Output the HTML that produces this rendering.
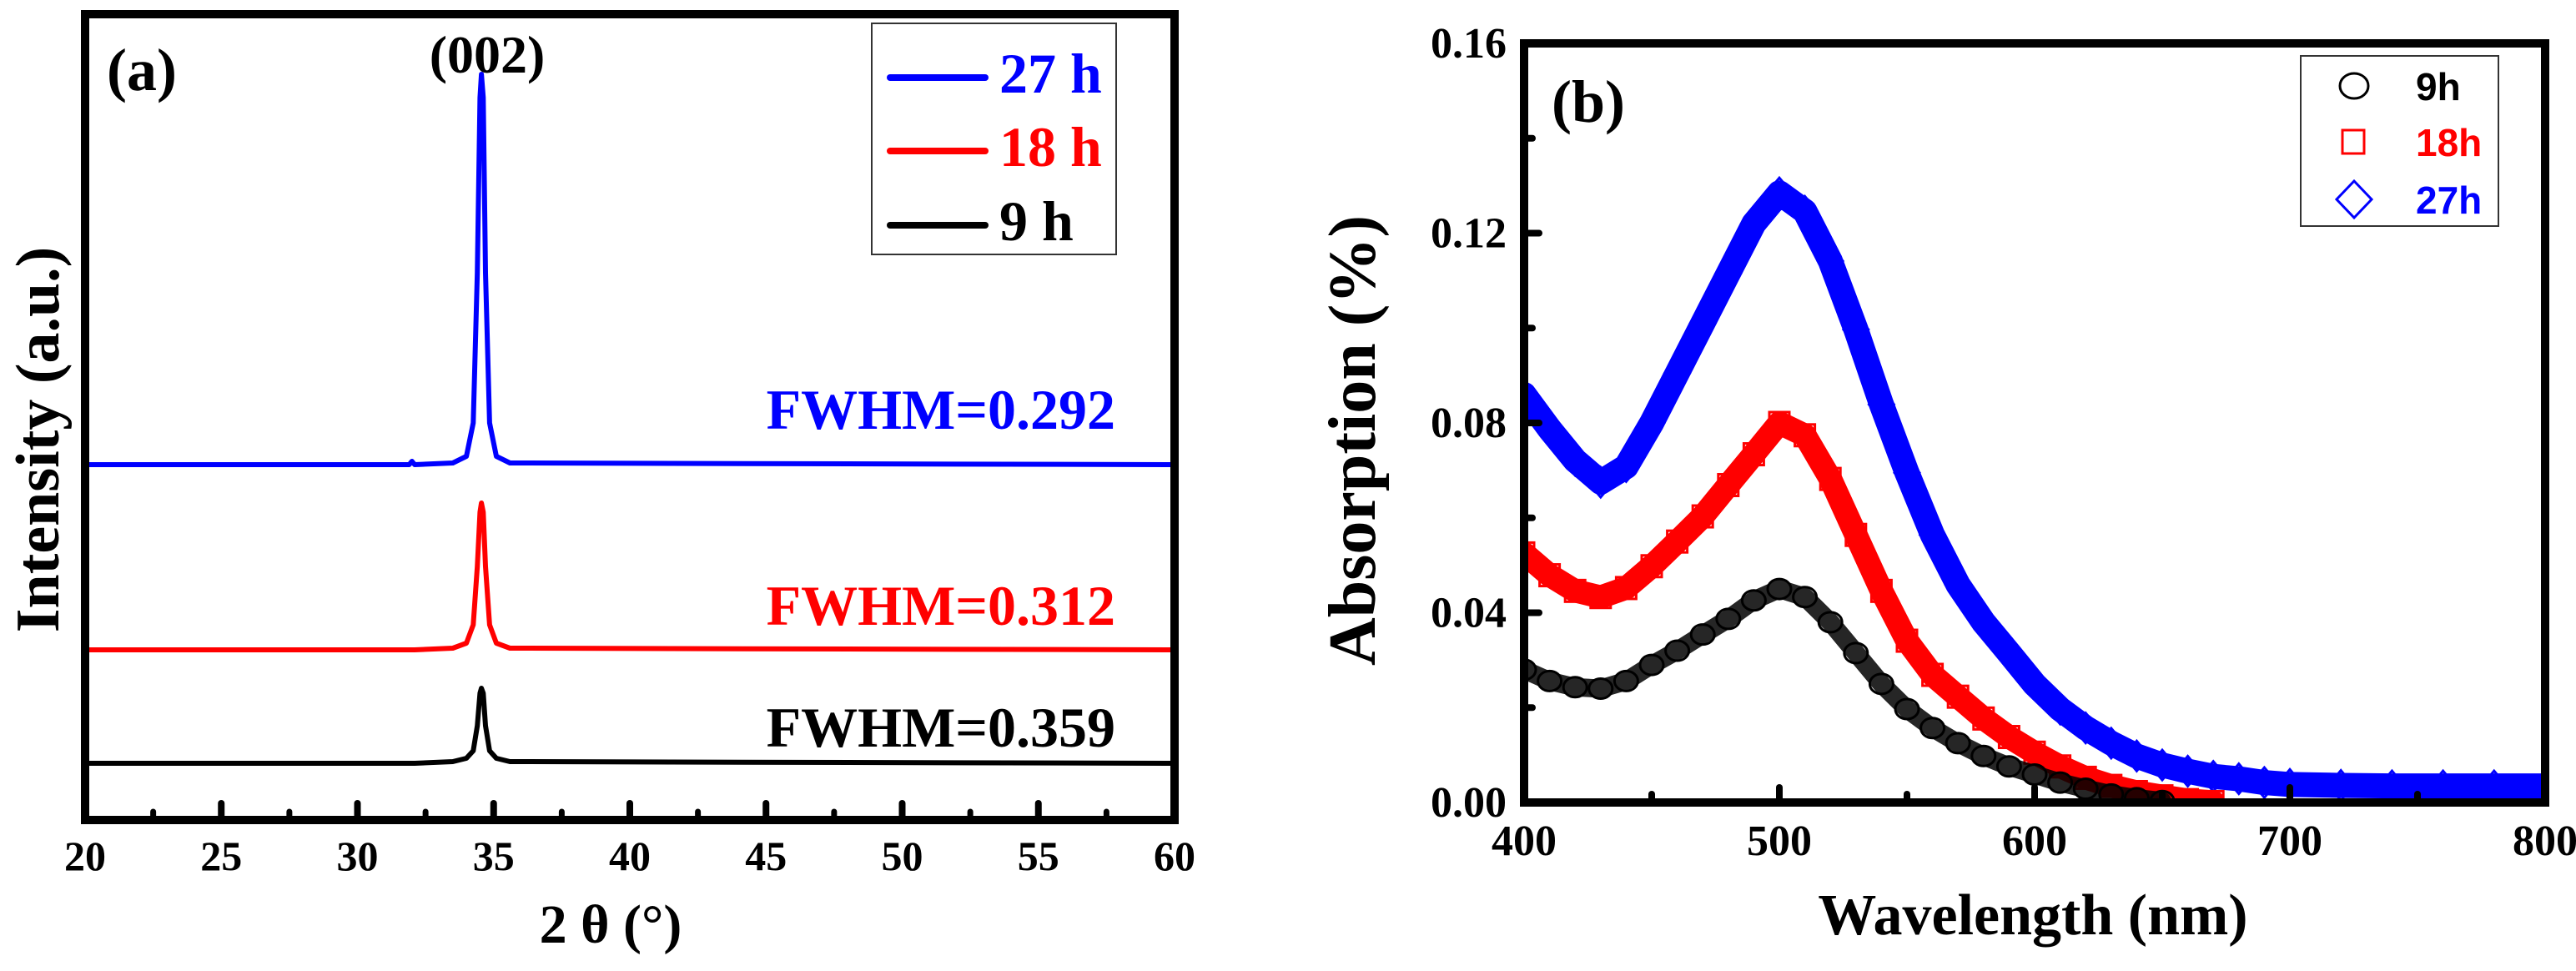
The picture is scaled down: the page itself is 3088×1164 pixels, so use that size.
<!DOCTYPE html>
<html><head><meta charset="utf-8">
<style>
html,body{margin:0;padding:0;background:#fff;}
svg{display:block;}
.serif{font-family:"Liberation Serif","DejaVu Serif",serif;font-weight:bold;}
.sans{font-family:"Liberation Sans","DejaVu Sans",sans-serif;font-weight:bold;}
</style></head>
<body>
<svg id="fig" width="3088" height="1164" viewBox="0 0 3088 1164" xmlns="http://www.w3.org/2000/svg">
  <rect x="0" y="0" width="3088" height="1164" fill="#fff"/>
  <g id="panelA"></g>
  <g id="panelB"></g>
</svg>
<script>
// ---------- Panel (a) data ----------
const xrdTheta = [20, 31.9, 32, 32.1, 33.5, 34.0, 34.25, 34.4, 34.5, 34.55, 34.62, 34.7, 34.85, 35.1, 35.6, 60];
const xrdBlue  = [0, 0, 4, 0, 2, 10, 50, 230, 440, 468, 440, 230, 50, 10, 2, 0];
const xrdRed   = [0, 0, 0, 0, 2, 8, 30, 100, 165, 176, 165, 100, 30, 8, 2, 0];
const xrdBlack = [0, 0, 0, 0, 2, 6, 15, 45, 84, 90, 84, 45, 15, 6, 2, 0];
const xrdOffsets = [426, 204, 68];
const xrdLabels = ["FWHM=0.292", "FWHM=0.312", "FWHM=0.359"];
const xrdTicks = [20, 25, 30, 35, 40, 45, 50, 55, 60];
const xrdLegend = ["27 h", "18 h", "9 h"];

// ---------- Panel (b) data ----------
const wl = [400,410,420,430,440,450,460,470,480,490,500,510,520,530,540,550,560,570,580,590,600,610,620,630,640,650,660,670,680,690,700,720,740,760,780,800];
const abs9h  = [0.028,0.0256,0.0243,0.024,0.0256,0.029,0.032,0.0354,0.0387,0.0426,0.045,0.0433,0.038,0.0315,0.025,0.0197,0.0157,0.0125,0.0098,0.0076,0.0059,0.0042,0.0029,0.0017,0.0009,0.0003,null,null,null,null,null,null,null,null,null,null];
const abs18h = [0.0525,0.0479,0.0446,0.0433,0.0452,0.0498,0.055,0.0603,0.0669,0.0734,0.080,0.0774,0.0682,0.0564,0.0446,0.0341,0.0269,0.0223,0.0177,0.0138,0.0105,0.0076,0.0052,0.0035,0.0022,0.0013,0.0005,0.0001,null,null,null,null,null,null,null,null];
const abs27h = [0.086,0.0787,0.0721,0.0675,0.0708,0.080,0.0905,0.101,0.1115,0.122,0.1285,0.1246,0.1141,0.0997,0.0839,0.0695,0.0564,0.0459,0.038,0.0315,0.0249,0.0197,0.0157,0.0125,0.0098,0.0079,0.0066,0.0055,0.005,0.0042,0.0038,0.0036,0.0035,0.0035,0.0035,0.0035];
const absYTicks = [0.00, 0.04, 0.08, 0.12, 0.16];
const absXTicks = [400, 500, 600, 700, 800];
const absLegend = ["9h", "18h", "27h"];

const NS = "http://www.w3.org/2000/svg";
function mk(parent, tag, attrs, text){
  const e = document.createElementNS(NS, tag);
  for (const k in attrs) e.setAttribute(k, attrs[k]);
  if (text !== undefined) e.textContent = text;
  parent.appendChild(e);
  return e;
}

// ===== Panel A =====
(function(){
  const g = document.getElementById('panelA');
  const L=102, R=1408, T=17, B=983;
  const xs = v => L + (v-20)/(60-20)*(R-L);
  const ys = v => B - v*(B-T)/966;
  const colors = ['#0000ff','#ff0000','#000000'];
  const series = [xrdBlue, xrdRed, xrdBlack];
  const names = ['xrd-27h-line','xrd-18h-line','xrd-9h-line'];
  series.forEach((s,i)=>{
    let d = '';
    s.forEach((v,j)=>{ d += (j?'L':'M') + xs(xrdTheta[j]).toFixed(1) + ',' + ys(v + xrdOffsets[i]).toFixed(1); });
    const p = mk(g,'path',{d:d, fill:'none', stroke:colors[i], 'stroke-width':6, 'stroke-linejoin':'round'});
    
    
  });
  const lblY = [514, 749, 895];
  const lblNames = ['fwhm-label-27h','fwhm-label-18h','fwhm-label-9h'];
  xrdLabels.forEach((t,i)=>{
    const e = mk(g,'text',{x:1337, y:lblY[i], 'text-anchor':'end', class:'serif', 'font-size':68, fill:colors[i]}, t);
    
    
  });
  const fr = mk(g,'rect',{x:L, y:T, width:R-L, height:B-T, fill:'none', stroke:'#000', 'stroke-width':10});
  
  
  for (let v=20; v<=60; v+=2.5){
    const major = (v % 5 === 0);
    if (v===20 || v===60) continue;
    const t = mk(g,'line',{x1:xs(v), x2:xs(v), y1:B, y2:B-(major?20:10), stroke:'#000', 'stroke-width':major?8:7, 'stroke-linecap':'round'});
    
    
  }
  xrdTicks.forEach(v=>{
    const e = mk(g,'text',{x:xs(v), y:1043, 'text-anchor':'middle', class:'serif', 'font-size':50, fill:'#000'}, String(v));
    
    
  });
  const lg = mk(g,'g',{});
  
  
  mk(lg,'rect',{x:1045, y:28, width:293, height:277, fill:'#fff', stroke:'#333', 'stroke-width':2});
  const ly = [93,181,270];
  xrdLegend.forEach((t,i)=>{
    const l = mk(lg,'line',{x1:1067, x2:1181, y1:ly[i], y2:ly[i], stroke:colors[i], 'stroke-width':8, 'stroke-linecap':'round'});
    
    
    const e = mk(lg,'text',{x:1198, y:ly[i]+18, class:'serif', 'font-size':68, fill:colors[i]}, t);
    
    
  });
  const pl = mk(g,'text',{x:128, y:108, class:'serif', 'font-size':72, fill:'#000'}, '(a)');
   
  const pk = mk(g,'text',{x:584, y:87, 'text-anchor':'middle', class:'serif', 'font-size':64, fill:'#000'}, '(002)');
   
  const xt = mk(g,'text',{x:732, y:1130, 'text-anchor':'middle', class:'serif', 'font-size':66, fill:'#000'}, '2 θ (°)');
   
  const yt = mk(g,'text',{x:0, y:0, 'text-anchor':'middle', class:'serif', 'font-size':74, fill:'#000', transform:'translate(70,527) rotate(-90)'}, 'Intensity (a.u.)');
   
})();

// ===== Panel B =====
(function(){
  const g = document.getElementById('panelB');
  const L=1827, R=3051, T=52, B=962;
  const xs = v => L + (v-400)/400*(R-L);
  const ys = v => B - v/0.16*(B-T);
  const colors = ['#000000','#ff0000','#0000ff'];
  const series = [abs9h, abs18h, abs27h];
  const widths = [22, 28, 30];
  const names = ['abs-9h-series','abs-18h-series','abs-27h-series'];
  [2,1,0].forEach(i=>{
    const s = series[i];
    const sg = mk(g,'g',{});
    
    
    let d = '', first = true;
    s.forEach((v,j)=>{ if (v===null) return; d += (first?'M':'L') + xs(wl[j]).toFixed(1) + ',' + ys(v).toFixed(1); first = false; });
    mk(sg,'path',{d:d, fill:'none', stroke:colors[i], 'stroke-width':widths[i], 'stroke-linejoin':'round', 'stroke-linecap':'round', opacity: i===0?0.85:1});
    s.forEach((v,j)=>{
      if (v===null) return;
      const cx = xs(wl[j]), cy = ys(v);
      let m;
      if (i===0) m = mk(sg,'ellipse',{cx:cx, cy:cy, rx:14, ry:12, fill:'none', stroke:'#000', 'stroke-width':3});
      else if (i===1) m = mk(sg,'rect',{x:cx-12, y:cy-13, width:24, height:26, fill:'none', stroke:'#f00', 'stroke-width':3});
      else m = mk(sg,'path',{d:`M${cx},${cy-18}L${cx+15},${cy}L${cx},${cy+18}L${cx-15},${cy}Z`, fill:'none', stroke:'#00f', 'stroke-width':3});
      
      
    });
  });
  mk(g,'rect',{x:L-40, y:T-20, width:35, height:B-T+40, fill:'#fff'});
  mk(g,'rect',{x:R+5, y:T-20, width:37, height:B-T+40, fill:'#fff'});
  mk(g,'rect',{x:L-20, y:B+5, width:R-L+40, height:25, fill:'#fff'});
  const fr = mk(g,'rect',{x:L, y:T, width:R-L, height:B-T, fill:'none', stroke:'#000', 'stroke-width':10});
  
  
  for (let k=1; k<8; k++){
    const v = k*0.02, major = (k%2===0);
    const t = mk(g,'line',{x1:L, x2:L+(major?18:10), y1:ys(v), y2:ys(v), stroke:'#000', 'stroke-width':8, 'stroke-linecap':'round'});
     
  }
  for (let v=450; v<800; v+=50){
    const major = (v%100===0);
    const t = mk(g,'line',{x1:xs(v), x2:xs(v), y1:B, y2:B-(major?18:10), stroke:'#000', 'stroke-width':8, 'stroke-linecap':'round'});
     
  }
  absYTicks.forEach(v=>{
    const e = mk(g,'text',{x:1806, y:ys(v)+17, 'text-anchor':'end', class:'serif', 'font-size':52, fill:'#000'}, v.toFixed(2));
     
  });
  absXTicks.forEach(v=>{
    const e = mk(g,'text',{x:xs(v), y:1025, 'text-anchor':'middle', class:'serif', 'font-size':52, fill:'#000'}, String(v));
     
  });
  const lg = mk(g,'g',{});
  
  
  mk(lg,'rect',{x:2758, y:67, width:237, height:204, fill:'#fff', stroke:'#333', 'stroke-width':2});
  const ly = [103,170,239];
  mk(lg,'ellipse',{cx:2822, cy:ly[0], rx:17, ry:15, fill:'none', stroke:'#000', 'stroke-width':3});
  mk(lg,'rect',{x:2808, y:ly[1]-14, width:26, height:28, fill:'none', stroke:'#f00', 'stroke-width':3});
  mk(lg,'path',{d:`M2822,${ly[2]-22}L2843,${ly[2]}L2822,${ly[2]+22}L2801,${ly[2]}Z`, fill:'none', stroke:'#00f', 'stroke-width':3});
  absLegend.forEach((t,i)=>{
    const e = mk(lg,'text',{x:2896, y:ly[i]+17, class:'sans', 'font-size':46, fill:colors[i]}, t);
     
  });
  const pl = mk(g,'text',{x:1860, y:146, class:'serif', 'font-size':72, fill:'#000'}, '(b)');
   
  const xt = mk(g,'text',{x:2437, y:1120, 'text-anchor':'middle', class:'serif', 'font-size':70, fill:'#000'}, 'Wavelength (nm)');
   
  const yt = mk(g,'text',{x:0, y:0, 'text-anchor':'middle', class:'serif', 'font-size':80, fill:'#000', transform:'translate(1648,528) rotate(-90)'}, 'Absorption (%)');
   
})();
</script>
</body></html>
